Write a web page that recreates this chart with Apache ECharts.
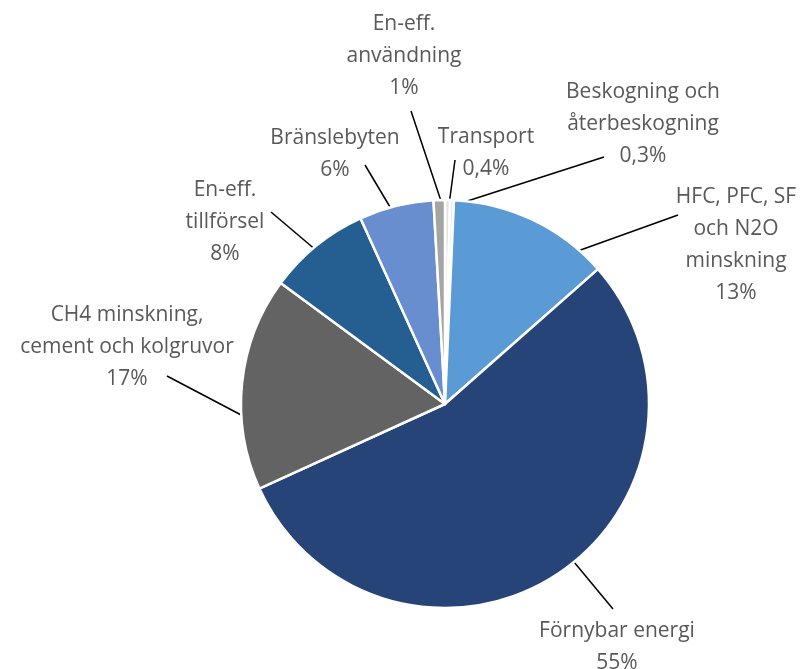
<!DOCTYPE html>
<html>
<head>
<meta charset="utf-8">
<script src="https://cdn.jsdelivr.net/npm/echarts@6/dist/echarts.min.js"></script>
<style>
  html, body { margin: 0; padding: 0; background: #fff; }
  #chart { width: 804px; height: 669px; }
</style>
</head>
<body>
<div id="chart"></div>
<script>
// slices clockwise from 12 o'clock
const names = [
  "Transport",
  "Beskogning och\nåterbeskogning",
  "HFC, PFC, SF\noch N2O\nminskning",
  "Förnybar energi",
  "CH4 minskning,\ncement och kolgruvor",
  "En-eff.\ntillförsel",
  "Bränslebyten",
  "En-eff.\nanvändning",
];
const values = [0.4, 0.3, 12.8, 54.7, 16.9, 8.1, 5.9, 0.9];
const pctLabels = ["0,4%", "0,3%", "13%", "55%", "17%", "8%", "6%", "1%"];
const colors = ["#E4E4E4", "#DCE8F5", "#5B9BD5", "#264478", "#636363", "#255E91", "#698ED0", "#A5A5A5"];

// label block centres
const labelPos = [
  [486, 153],
  [643, 124],
  [736, 245],
  [617, 647],
  [127, 347],
  [225, 222],
  [335, 154],
  [404, 56],
];
// leader lines: end near the text, start on the slice edge
const lineEnds = [
  [455, 160],
  [604, 157],
  [678, 215],
  [613, 609],
  [167, 376],
  [271, 212],
  [365, 165],
  [411, 111],
];
const lineStarts = [
  [449, 205],
  [455, 205],
  [575, 252],
  [574, 562],
  [245, 417],
  [317, 251],
  [393, 212],
  [442, 204],
];

const chartDom = document.getElementById("chart");
const myChart = echarts.init(chartDom);
const option = {
  animation: false,
  series: [
    {
      type: "pie",
      center: [445, 404],
      radius: 204,
      startAngle: 90,
      clockwise: true,
      data: names.map((n, i) => ({
        name: n,
        value: values[i],
        itemStyle: { color: colors[i] },
      })),
      itemStyle: {
        borderColor: "#fff",
        borderWidth: 2.5,
      },
      label: {
        show: true,
        position: "outside",
        overflow: "none",
        formatter: (p) => p.name + "\n" + pctLabels[p.dataIndex],
        fontFamily: "Open Sans",
        fontSize: 21,
        lineHeight: 32,
        color: "#595959",
        align: "center",
      },
      labelLine: {
        show: true,
        length: 20,
        length2: 10,
        lineStyle: { color: "#000", width: 1.5 },
      },
      labelLayout: function (params) {
        const i = params.dataIndex;
        const p = labelPos[i];
        const start = lineStarts[i];
        const end = lineEnds[i];
        return {
          x: p[0],
          y: p[1],
          align: "center",
          verticalAlign: "middle",
          labelLinePoints: [
            start,
            [(start[0] + end[0]) / 2, (start[1] + end[1]) / 2],
            end,
          ],
        };
      },
    },
  ],
};
myChart.setOption(option);
</script>
</body>
</html>
